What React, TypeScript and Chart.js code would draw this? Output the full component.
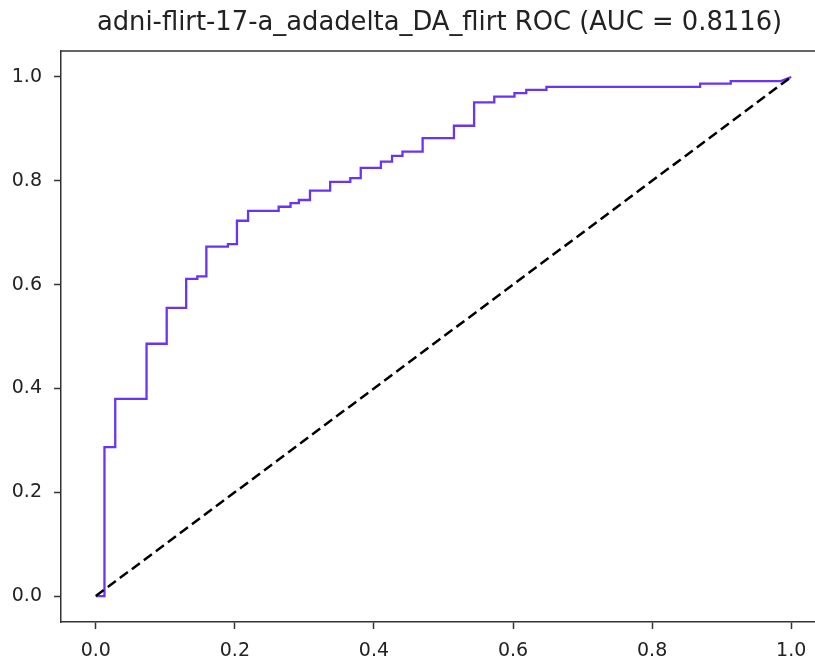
import React, { useEffect, useRef } from "react";
import { Chart, registerables } from "chart.js";

Chart.register(...registerables);

const TITLE = "adni-flirt-17-a_adadelta_DA_flirt ROC (AUC = 0.8116)";

// ROC curve corner points (false positive rate, true positive rate)
const fpr = [
  0, 0.0125, 0.0125, 0.028, 0.028, 0.073, 0.073, 0.102, 0.102, 0.13, 0.13,
  0.146, 0.146, 0.159, 0.159, 0.19, 0.19, 0.203, 0.203, 0.219, 0.219, 0.263,
  0.263, 0.28, 0.28, 0.292, 0.292, 0.308, 0.308, 0.337, 0.337, 0.366, 0.366,
  0.381, 0.381, 0.41, 0.41, 0.426, 0.426, 0.441, 0.441, 0.47, 0.47, 0.515,
  0.515, 0.544, 0.544, 0.573, 0.573, 0.602, 0.602, 0.619, 0.619, 0.648, 0.648,
  0.869, 0.869, 0.913, 0.913, 0.985, 1.0,
];
const tpr = [
  0, 0, 0.287, 0.287, 0.38, 0.38, 0.486, 0.486, 0.555, 0.555, 0.611, 0.611,
  0.616, 0.616, 0.673, 0.673, 0.678, 0.678, 0.723, 0.723, 0.742, 0.742, 0.75,
  0.75, 0.757, 0.757, 0.763, 0.763, 0.781, 0.781, 0.798, 0.798, 0.805, 0.805,
  0.825, 0.825, 0.837, 0.837, 0.848, 0.848, 0.856, 0.856, 0.882, 0.882, 0.906,
  0.906, 0.951, 0.951, 0.962, 0.962, 0.969, 0.969, 0.975, 0.975, 0.981, 0.981,
  0.987, 0.987, 0.992, 0.992, 1.0,
];

// chance diagonal
const chanceX = [0, 1];
const chanceY = [0, 1];

const xTickValues = [0, 0.2, 0.4, 0.6, 0.8, 1.0];
const yTickValues = [0, 0.2, 0.4, 0.6, 0.8, 1.0];

const AXIS_MIN = -0.05;
const AXIS_MAX = 1.05;

const FONT = "'DejaVu Sans', sans-serif";
const TEXT_COLOR = "#222";
const SPINE_COLOR = "#333";

const frameAndTitle = {
  id: "frameAndTitle",
  afterDatasetsDraw(chart: any) {
    const { ctx, chartArea } = chart;
    ctx.save();
    ctx.strokeStyle = SPINE_COLOR;
    ctx.lineWidth = 1.5;
    ctx.beginPath();
    ctx.moveTo(chartArea.left, chartArea.top);
    ctx.lineTo(chartArea.right, chartArea.top);
    ctx.stroke();
    ctx.fillStyle = TEXT_COLOR;
    ctx.font = `25.8px ${FONT}`;
    ctx.textAlign = "center";
    ctx.textBaseline = "middle";
    ctx.fillText(TITLE, (chartArea.left + chartArea.right) / 2 - 4, 23);
    ctx.restore();
  },
};

export default function App() {
  const ref = useRef<HTMLCanvasElement | null>(null);

  useEffect(() => {
    const canvas = ref.current;
    if (!canvas) return;
    const chart = new Chart(canvas, {
      type: "scatter",
      data: {
        datasets: [
          {
            data: chanceX.map((x, i) => ({ x, y: chanceY[i] })),
            showLine: true,
            borderColor: "#000",
            borderWidth: 2.5,
            borderDash: [10, 5],
            pointRadius: 0,
            fill: false,
          },
          {
            data: fpr.map((x, i) => ({ x, y: tpr[i] })),
            showLine: true,
            borderColor: "#6a35f2",
            borderWidth: 2.3,
            pointRadius: 0,
            fill: false,
          },
        ],
      },
      options: {
        responsive: false,
        animation: false,
        layout: { padding: { left: 0, right: 61, top: 51, bottom: 0 } },
        plugins: {
          legend: { display: false },
          tooltip: { enabled: false },
          title: { display: false },
        },
        scales: {
          x: {
            type: "linear",
            min: AXIS_MIN,
            max: AXIS_MAX,
            afterBuildTicks: (s: any) => {
              s.ticks = xTickValues.map((v) => ({ value: v }));
            },
            afterFit: (s: any) => {
              s.height = 37;
            },
            grid: {
              drawOnChartArea: false,
              drawTicks: true,
              tickLength: 7,
              tickColor: SPINE_COLOR,
              tickWidth: 1.5,
            },
            border: { display: true, color: SPINE_COLOR, width: 1.5 },
            ticks: {
              color: TEXT_COLOR,
              font: { family: FONT, size: 19 },
              padding: 11,
              maxRotation: 0,
              callback: (v: any) => Number(v).toFixed(1),
            },
          },
          y: {
            type: "linear",
            min: AXIS_MIN,
            max: AXIS_MAX,
            afterBuildTicks: (s: any) => {
              s.ticks = yTickValues.map((v) => ({ value: v }));
            },
            afterFit: (s: any) => {
              s.width = 61;
            },
            grid: {
              drawOnChartArea: false,
              drawTicks: true,
              tickLength: 7,
              tickColor: SPINE_COLOR,
              tickWidth: 1.5,
            },
            border: { display: true, color: SPINE_COLOR, width: 1.5 },
            ticks: {
              color: TEXT_COLOR,
              font: { family: FONT, size: 19 },
              padding: 12,
              callback: (v: any) => Number(v).toFixed(1),
            },
          },
        },
      },
      plugins: [frameAndTitle],
    });
    return () => chart.destroy();
  }, []);

  return (
    <div
      style={{
        position: "fixed",
        left: 0,
        top: 0,
        width: 815,
        height: 659,
        overflow: "hidden",
        background: "#fff",
      }}
    >
      <canvas ref={ref} width={887} height={659} style={{ display: "block" }} />
    </div>
  );
}
